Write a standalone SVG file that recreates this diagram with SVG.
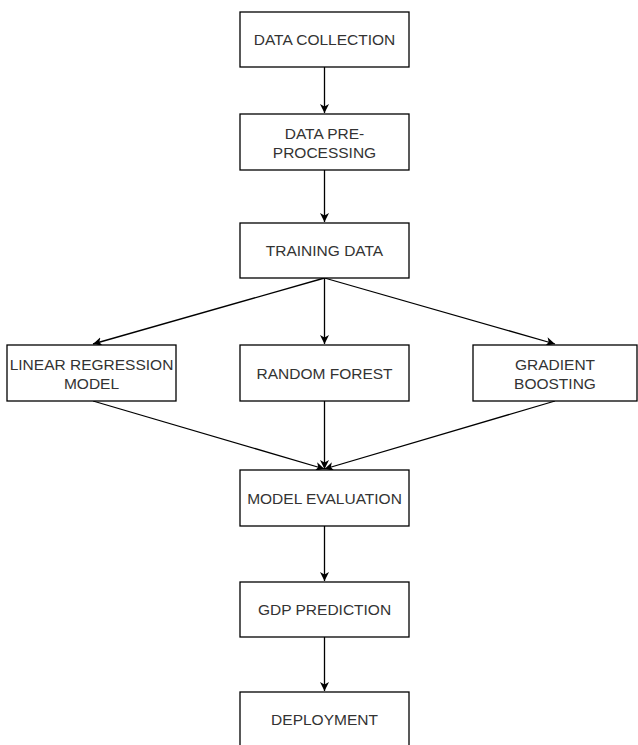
<svg xmlns="http://www.w3.org/2000/svg" width="638" height="745" viewBox="0 0 638 745">
<defs>
<style>
.box{fill:#fff;stroke:#000;stroke-width:1.3}
.t{font-family:"Liberation Sans",Arial,sans-serif;font-size:15.5px;fill:#333;text-anchor:middle}
.c{stroke:#000;stroke-width:1.3;fill:none;marker-end:url(#ah)}
</style>
<marker id="ah" markerWidth="12" markerHeight="12" refX="9" refY="4.5" orient="auto" markerUnits="userSpaceOnUse">
<path d="M0,0 L9,4.5 L0,9 L2.5,4.5 Z" fill="#000"/>
</marker>
</defs>
<rect width="638" height="745" fill="#fff"/>
<g id="connectors">
<line class="c" x1="324.5" y1="67" x2="324.5" y2="113"/>
<line class="c" x1="324.5" y1="170" x2="324.5" y2="222"/>
<line class="c" x1="324.5" y1="278" x2="93" y2="344"/>
<line class="c" x1="324.5" y1="278" x2="324.5" y2="344"/>
<line class="c" x1="324.5" y1="278" x2="555" y2="344"/>
<line class="c" x1="93" y1="401" x2="324.5" y2="469"/>
<line class="c" x1="324.5" y1="401" x2="324.5" y2="469"/>
<line class="c" x1="555" y1="401" x2="324.5" y2="469"/>
<line class="c" x1="324.5" y1="526" x2="324.5" y2="581"/>
<line class="c" x1="324.5" y1="637" x2="324.5" y2="691"/>
</g>
<g id="data-collection"><rect class="box" x="240" y="12" width="169" height="55"/><text class="t" x="324.5" y="45">DATA COLLECTION</text></g>
<g id="data-preprocessing"><rect class="box" x="240" y="114" width="169" height="56"/><text class="t" x="324.5" y="138.5">DATA PRE-</text><text class="t" x="324.5" y="157.5">PROCESSING</text></g>
<g id="training-data"><rect class="box" x="240" y="223" width="169" height="55"/><text class="t" x="324.5" y="256">TRAINING DATA</text></g>
<g id="linear-regression"><rect class="box" x="7" y="345" width="169" height="56"/><text class="t" x="91.5" y="369.5">LINEAR REGRESSION</text><text class="t" x="91.5" y="388.5">MODEL</text></g>
<g id="random-forest"><rect class="box" x="240" y="345" width="169" height="56"/><text class="t" x="324.5" y="378.5">RANDOM FOREST</text></g>
<g id="gradient-boosting"><rect class="box" x="473" y="345" width="164" height="56"/><text class="t" x="555" y="369.5">GRADIENT</text><text class="t" x="555" y="388.5">BOOSTING</text></g>
<g id="model-evaluation"><rect class="box" x="240" y="470" width="169" height="56"/><text class="t" x="324.5" y="503.5">MODEL EVALUATION</text></g>
<g id="gdp-prediction"><rect class="box" x="240" y="582" width="169" height="55"/><text class="t" x="324.5" y="615">GDP PREDICTION</text></g>
<g id="deployment"><rect class="box" x="240" y="692" width="169" height="60"/><text class="t" x="324.5" y="724.5">DEPLOYMENT</text></g>
</svg>
